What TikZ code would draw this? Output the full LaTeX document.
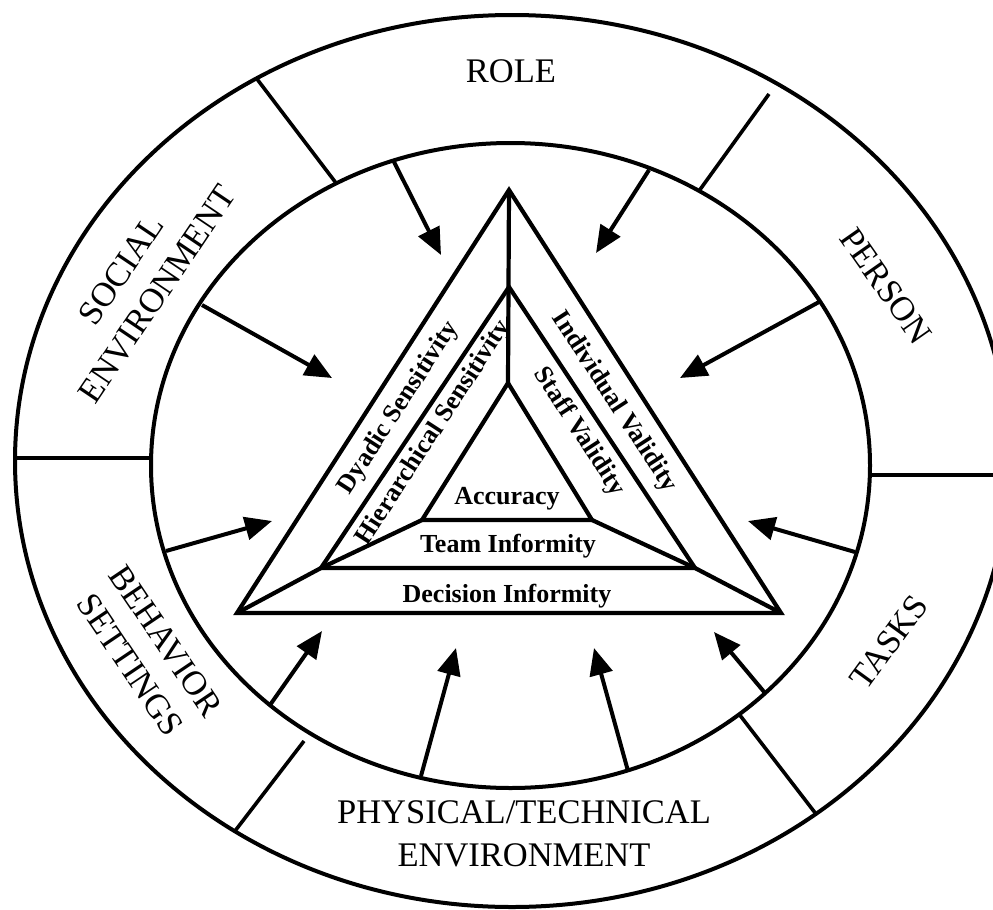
\documentclass[tikz,border=0pt]{standalone}
\usepackage{fontspec}
\setmainfont{Liberation Serif}
\usetikzlibrary{arrows.meta}
\begin{document}
\begin{tikzpicture}[x=1pt,y=-1pt,
  ring/.style={line width=4pt},
  divider/.style={line width=3.6pt},
  band/.style={line width=4.2pt,line join=miter},
  inflow/.style={line width=4pt,-{Triangle[length=27pt,width=23pt]}},
  outerlabel/.style={font=\fontsize{34.5}{43}\selectfont,inner sep=0pt,align=center},
  innerlabel/.style={font=\fontsize{26}{30}\selectfont\bfseries,inner sep=0pt}]

\useasboundingbox (0,0) rectangle (993,910);
\clip (0,0) rectangle (993,910);

% the two rings
\draw[ring] (512,461) ellipse [x radius=497pt, y radius=446pt];
\draw[ring] (510.5,465.5) ellipse [x radius=359.5pt, y radius=322.5pt];

% sector dividers between the ring fields
\coordinate (d1a) at (257,79);   \coordinate (d1b) at (336,183);
\coordinate (d2a) at (769,94);   \coordinate (d2b) at (699,191);
\coordinate (d3a) at (15,458);   \coordinate (d3b) at (151,458);
\coordinate (d4a) at (870,475);  \coordinate (d4b) at (1000,475);
\coordinate (d5a) at (235,831);  \coordinate (d5b) at (304,741);
\coordinate (d6a) at (739,714);  \coordinate (d6b) at (816,814);
\foreach \k in {1,...,6} \draw[divider] (d\k a) -- (d\k b);

% nested triangles
\coordinate (T1) at (509,190); \coordinate (L1) at (237,613); \coordinate (R1) at (781,613);
\coordinate (T2) at (509,287); \coordinate (L2) at (321,568); \coordinate (R2) at (695,568);
\coordinate (T3) at (508,383); \coordinate (L3) at (422,520); \coordinate (R3) at (592,520);
\draw[band] (T1) -- (L1) -- (R1) -- cycle;
\draw[band] (T2) -- (L2) -- (R2) -- cycle;
\draw[band] (T3) -- (L3) -- (R3) -- cycle;
\draw[band] (T1) -- (T3);
\draw[band] (L1) -- (L2) -- (L3);
\draw[band] (R1) -- (R2) -- (R3);

% influences pointing inward
\coordinate (a1s) at (393,160);  \coordinate (a1t) at (441,255);
\coordinate (a2s) at (649,170);  \coordinate (a2t) at (596,253);
\coordinate (a3s) at (202,305);  \coordinate (a3t) at (332,378);
\coordinate (a4s) at (819,302);  \coordinate (a4t) at (680,378);
\coordinate (a5s) at (166,551);  \coordinate (a5t) at (272,521);
\coordinate (a6s) at (855,552);  \coordinate (a6t) at (748,521);
\coordinate (a7s) at (270,705);  \coordinate (a7t) at (322,631);
\coordinate (a8s) at (421,776);  \coordinate (a8t) at (456,648);
\coordinate (a9s) at (628,771);  \coordinate (a9t) at (594,648);
\coordinate (a10s) at (765,693); \coordinate (a10t) at (714,632);
\foreach \k in {1,...,10} \draw[inflow] (a\k s) -- (a\k t);

% ring labels
\node[outerlabel] (role) at (511,71) {ROLE};
\node[outerlabel,rotate=-55] (person) at (886,286) {PERSON};
\node[outerlabel,rotate=54] (tasks) at (889,642) {TASKS};
\node[outerlabel,rotate=56] (social) at (139,282) {SOCIAL\\ENVIRONMENT};
\node[outerlabel,rotate=-56] (behavior) at (148,653) {BEHAVIOR\\SETTINGS};
\node[outerlabel] (physical) at (524,834) {PHYSICAL/TECHNICAL\\ENVIRONMENT};

% triangle labels
\node[innerlabel,rotate=57] (dyadic) at (399,408) {Dyadic Sensitivity};
\node[innerlabel,rotate=57] (hier) at (434,433) {Hierarchical Sensitivity};
\node[innerlabel,rotate=-57] (indiv) at (614,402) {Individual Validity};
\node[innerlabel,rotate=-57] (staff) at (579,432) {Staff Validity};
\node[innerlabel] (acc) at (507,499) {Accuracy};
\node[innerlabel] (team) at (508,546) {Team Informity};
\node[innerlabel] (dec) at (507,596) {Decision Informity};
\end{tikzpicture}
\end{document}
